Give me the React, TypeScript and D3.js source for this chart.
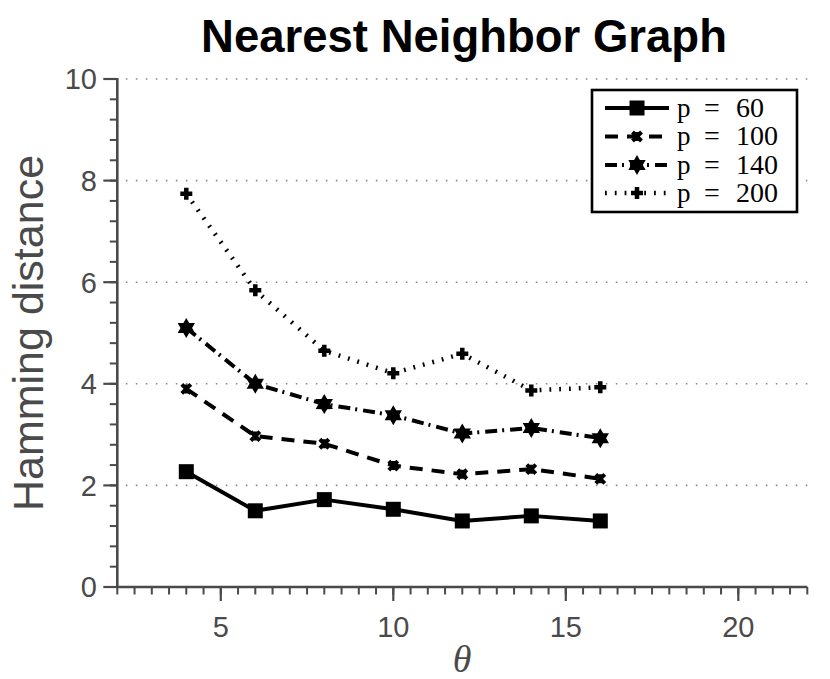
import React from 'react';
import * as d3 from 'd3';

// theta values (x) and Hamming distance for each p
const thetas = [4, 6, 8, 10, 12, 14, 16];
const p60 = [2.27, 1.5, 1.72, 1.53, 1.3, 1.4, 1.3];
const p100 = [3.9, 2.97, 2.82, 2.39, 2.22, 2.32, 2.13];
const p140 = [5.1, 4.0, 3.6, 3.38, 3.02, 3.13, 2.93];
const p200 = [7.74, 5.84, 4.65, 4.21, 4.59, 3.87, 3.93];

const seriesLabels = ['60', '100', '140', '200'];
const xTickValues = [5, 10, 15, 20];
const yTickValues = [0, 2, 4, 6, 8, 10];
const gridValues = [2, 4, 6, 8, 10];

const W = 830;
const H = 679;
const AXIS = '#4a4a4a';

const x = d3.scaleLinear().domain([2, 22]).range([117.3, 807.3]);
const y = d3.scaleLinear().domain([0, 10]).range([587, 79]);

const line = d3
  .line<number>()
  .x((_, i) => x(thetas[i]))
  .y((d) => y(d));

// six-point star
const hexagram = (r: number) => {
  const pts: string[] = [];
  for (let k = 0; k < 12; k++) {
    const a = -Math.PI / 2 + (k * Math.PI) / 6;
    const rr = k % 2 === 0 ? r : r * 0.58;
    pts.push(`${(rr * Math.cos(a)).toFixed(2)},${(rr * Math.sin(a)).toFixed(2)}`);
  }
  return 'M' + pts.join('L') + 'Z';
};

const Marker: React.FC<{ kind: number; cx: number; cy: number }> = ({ kind, cx, cy }) => {
  const t = `translate(${cx},${cy})`;
  if (kind === 0) return <rect x={cx - 7.5} y={cy - 7.5} width={15} height={15} fill="#000" />;
  if (kind === 1)
    return (
      <path
        transform={t}
        d="M-4.5,-4.5L4.5,4.5M-4.5,4.5L4.5,-4.5M0,-4.5L0,4.5"
        stroke="#000"
        strokeWidth={4}
        fill="none"
      />
    );
  if (kind === 2) return <path transform={t} d={hexagram(10)} fill="#000" />;
  return (
    <path transform={t} d="M-6,0L6,0M0,-6L0,6" stroke="#000" strokeWidth={4.5} fill="none" />
  );
};

const dashes = ['none', '13 9', '12 5 2 6', '1.8 8'];
const seriesData = [p60, p100, p140, p200];

const App: React.FC = () => {
  const yMinor = d3.range(0, 10.001, 0.4);
  const xMinor = d3.range(2, 22.001, 0.5);
  const legendRows = [108, 136.5, 165, 193];

  return (
    <svg
      width={W}
      height={H}
      viewBox={`0 0 ${W} ${H}`}
      style={{ position: 'absolute', left: 0, top: 0, background: '#fff' }}
    >
      <rect width={W} height={H} fill="#fff" />

      {/* grid */}
      {gridValues.map((v) => (
        <line
          key={'g' + v}
          x1={x(2)}
          x2={x(22)}
          y1={y(v)}
          y2={y(v)}
          stroke="#8a8a8a"
          strokeWidth={1.6}
          strokeDasharray="1.6 8.4"
          strokeDashoffset={-8.5}
        />
      ))}

      {/* title */}
      <text
        x={464}
        y={52}
        textAnchor="middle"
        fontFamily="'Liberation Sans', Arial, sans-serif"
        fontWeight="bold"
        fontSize={45.5}
        fill="#000"
      >
        Nearest Neighbor Graph
      </text>

      {/* y axis */}
      <line x1={x(2)} x2={x(2)} y1={y(10) - 1} y2={y(0) + 1} stroke={AXIS} strokeWidth={2.6} />
      {yMinor.map((v) => (
        <line key={'ym' + v} x1={x(2) - 7.5} x2={x(2)} y1={y(v)} y2={y(v)} stroke={AXIS} strokeWidth={2} />
      ))}
      {yTickValues.map((v) => (
        <g key={'yt' + v}>
          <line x1={x(2) - 14} x2={x(2)} y1={y(v)} y2={y(v)} stroke={AXIS} strokeWidth={2.2} />
          <text
            x={97}
            y={y(v)}
            dy="0.36em"
            textAnchor="end"
            fontFamily="'Liberation Sans', Arial, sans-serif"
            fontSize={29}
            fill={AXIS}
          >
            {v}
          </text>
        </g>
      ))}

      {/* x axis */}
      <line x1={x(2) - 1} x2={x(22)} y1={y(0)} y2={y(0)} stroke={AXIS} strokeWidth={2.6} />
      {xMinor.map((v) => (
        <line key={'xm' + v} x1={x(v)} x2={x(v)} y1={y(0)} y2={y(0) + 7.5} stroke={AXIS} strokeWidth={2} />
      ))}
      {xTickValues.map((v) => (
        <g key={'xt' + v}>
          <line x1={x(v)} x2={x(v)} y1={y(0)} y2={y(0) + 14} stroke={AXIS} strokeWidth={2.2} />
          <text
            x={x(v)}
            y={637}
            textAnchor="middle"
            fontFamily="'Liberation Sans', Arial, sans-serif"
            fontSize={29}
            fill={AXIS}
          >
            {v}
          </text>
        </g>
      ))}

      {/* axis labels */}
      <text
        transform="translate(43,333) rotate(-90)"
        textAnchor="middle"
        fontFamily="'Liberation Sans', Arial, sans-serif"
        fontSize={43}
        fill={AXIS}
      >
        Hamming distance
      </text>
      <text
        x={462}
        y={672}
        textAnchor="middle"
        fontFamily="'Liberation Serif', 'Times New Roman', serif"
        fontStyle="italic"
        fontSize={38}
        fill={AXIS}
      >
        θ
      </text>

      {/* series */}
      {seriesData.map((s, k) => (
        <g key={'s' + k}>
          <path
            d={line(s) || ''}
            fill="none"
            stroke="#000"
            strokeWidth={k === 3 ? 4.5 : 4}
            strokeDasharray={dashes[k]}
            strokeLinejoin="round"
          />
          {s.map((v, i) => (
            <Marker key={i} kind={k} cx={x(thetas[i])} cy={y(v)} />
          ))}
        </g>
      ))}

      {/* legend */}
      <rect x={592} y={90} width={205} height={122} fill="#fff" stroke="#000" strokeWidth={2.6} />
      {seriesLabels.map((lab, k) => (
        <g key={'l' + k}>
          <line
            x1={605}
            x2={669}
            y1={legendRows[k]}
            y2={legendRows[k]}
            stroke="#000"
            strokeWidth={k === 3 ? 4.5 : 4}
            strokeDasharray={dashes[k]}
          />
          <Marker kind={k} cx={637} cy={legendRows[k]} />
          <text
            y={legendRows[k] + 8.5}
            fontFamily="'Liberation Serif', 'Times New Roman', serif"
            fontSize={27}
            fill="#000"
          >
            <tspan x={677}>p</tspan>
            <tspan x={704} fontSize={28}>=</tspan>
            <tspan x={736} fontSize={28}>{lab}</tspan>
          </text>
        </g>
      ))}
    </svg>
  );
};

export default App;
